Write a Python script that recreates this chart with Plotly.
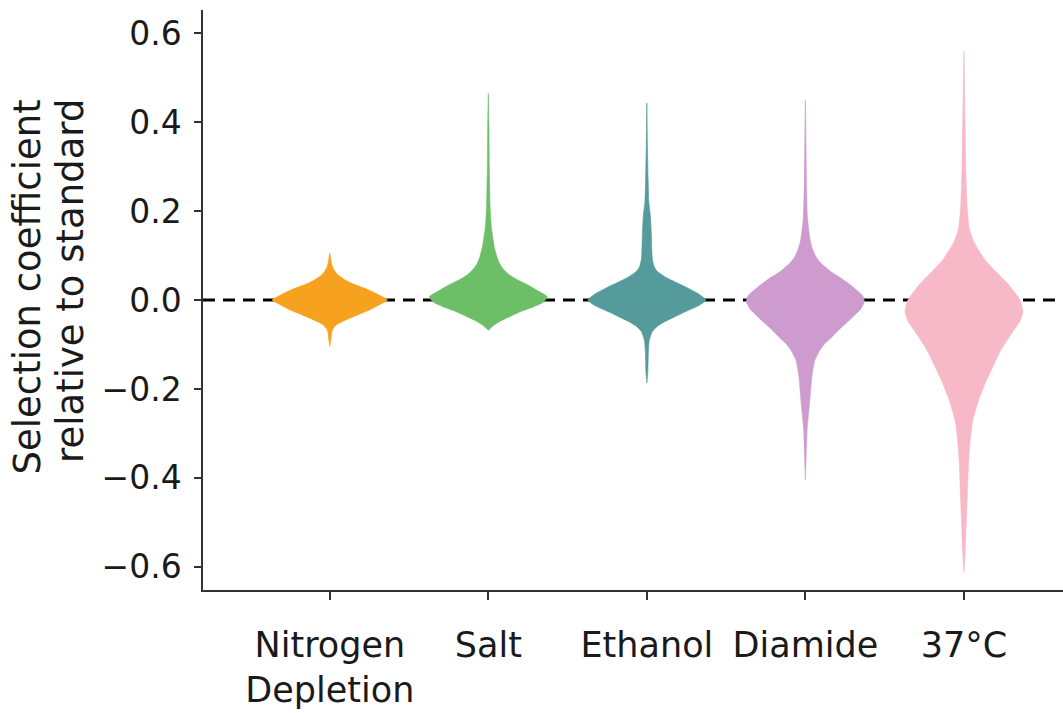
import plotly.graph_objects as go

# Conditions shown along the x axis
conditions = ["Nitrogen<br>Depletion", "Salt", "Ethanol", "Diamide", "37°C"]
colors = ["#f6a21f", "#6cbf66", "#559b9b", "#cd9bcd", "#f7b8c8"]

# Kernel-density profiles of the selection coefficient per condition:
# sample levels (y) and density at each level, in percent of the peak
nitrogen_y = [0.105, 0.095, 0.086, 0.075, 0.065, 0.056, 0.045, 0.037, 0.028, 0.019, 0.008,
              0.0, -0.008, -0.022, -0.032, -0.041, -0.05, -0.056, -0.065, -0.075, -0.09, -0.105]
nitrogen_d = [0, 1.4, 2.5, 4.6, 8.5, 14, 26, 38, 56, 72, 88,
              98, 88, 68, 50, 34, 19, 11, 5, 3, 1.7, 0]

salt_y = [0.465, 0.40, 0.30, 0.21, 0.165, 0.12, 0.095, 0.082, 0.07, 0.056, 0.045,
          0.034, 0.02, 0.007, -0.005, -0.015, -0.025, -0.037, -0.047, -0.056, -0.063, -0.068]
salt_d = [0, 1, 1.7, 3, 5, 10, 15, 19, 25, 36, 50,
          67, 85, 100, 93, 77, 57, 37, 21, 10, 4, 0]

ethanol_y = [0.443, 0.35, 0.28, 0.22, 0.19, 0.15, 0.11, 0.09, 0.075, 0.067, 0.058, 0.049, 0.04,
             0.03, 0.015, 0.0, -0.012, -0.026, -0.038, -0.049, -0.06, -0.071, -0.09, -0.12,
             -0.16, -0.187]
ethanol_d = [0, 1, 2, 3.4, 6, 7.6, 8.5, 9.5, 12.5, 16, 24, 35, 49,
             65, 86, 100, 89, 66, 47, 30, 17, 9.3, 4.2, 2.5,
             1.7, 0]

diamide_y = [0.45, 0.35, 0.25, 0.187, 0.16, 0.135, 0.115, 0.097, 0.085, 0.075, 0.063, 0.052,
             0.037, 0.022, 0.01, -0.004, -0.02, -0.032, -0.045, -0.063, -0.083, -0.098,
             -0.112, -0.135, -0.172, -0.225, -0.26, -0.29, -0.35, -0.405]
diamide_d = [0, 1, 2, 3.4, 5.5, 8, 12, 18, 25, 33, 44, 57,
             73, 87, 97, 100, 94, 85, 75, 60, 45, 33,
             25, 16, 11, 7.6, 5, 3, 1.4, 0]

heat_y = [0.56, 0.48, 0.40, 0.285, 0.21, 0.165, 0.15, 0.13, 0.112, 0.09, 0.075, 0.06, 0.037,
          0.022, 0.0, -0.025, -0.045, -0.075, -0.112, -0.15, -0.187, -0.225, -0.277, -0.352,
          -0.465, -0.578, -0.613]
heat_d = [0, 1, 2, 3.4, 5.5, 8.5, 11.5, 17, 25, 36, 46, 57, 74,
          83, 95, 100, 96, 81, 63, 49, 36, 25, 14, 8.5,
          5, 1.7, 0]

profiles = [(nitrogen_y, nitrogen_d), (salt_y, salt_d), (ethanol_y, ethanol_d),
            (diamide_y, diamide_d), (heat_y, heat_d)]

HALF_WIDTH = 0.372  # half-width of a violin at peak density, in category units

fig = go.Figure()

for i, ((ys, ds), col) in enumerate(zip(profiles, colors)):
    right = [i + d / 100 * HALF_WIDTH for d in ds]
    left = [i - d / 100 * HALF_WIDTH for d in reversed(ds)]
    fig.add_trace(go.Scatter(
        x=right + left,
        y=list(ys) + list(reversed(ys)),
        mode="lines",
        fill="toself",
        fillcolor=col,
        line=dict(color=col, width=0.6, shape="spline", smoothing=0.5),
        hoverinfo="skip",
        showlegend=False,
    ))

# Dashed reference line at zero, beneath the violins
fig.add_shape(type="line", xref="paper", x0=0, x1=1, yref="y", y0=0, y1=0,
              line=dict(color="black", width=3, dash="12px,8px"), layer="below")

font_family = "DejaVu Sans"
axis_col = "#333333"
text_col = "#1a1a1a"

fig.update_xaxes(
    range=[-0.8, 4.625],
    tickmode="array",
    tickvals=list(range(len(conditions))),
    ticktext=conditions,
    showline=True, linecolor=axis_col, linewidth=1.5,
    ticks="outside", ticklen=8, tickwidth=1.5, tickcolor=axis_col,
    showgrid=False, zeroline=False,
    tickfont=dict(family=font_family, size=35, color=text_col),
    ticklabelstandoff=15,
)
fig.update_yaxes(
    range=[-0.652, 0.652],
    tickmode="array",
    tickvals=[-0.6, -0.4, -0.2, 0.0, 0.2, 0.4, 0.6],
    ticktext=["\u22120.6", "\u22120.4", "\u22120.2", "0.0", "0.2", "0.4", "0.6"],
    showline=True, linecolor=axis_col, linewidth=1.5,
    ticks="outside", ticklen=7, tickwidth=1.5, tickcolor=axis_col,
    showgrid=False, zeroline=False,
    tickfont=dict(family=font_family, size=33, color=text_col),
    ticklabelstandoff=6,
)

# Two-line y-axis title
for text, xpos in [("Selection coefficient", -0.2035), ("relative to standard", -0.1547)]:
    fig.add_annotation(
        text=text, xref="paper", yref="paper", x=xpos, y=0.85,
        xanchor="center", yanchor="top", textangle=-90, showarrow=False,
        font=dict(family=font_family, size=37, color=text_col),
    )

fig.update_layout(
    width=1063, height=713,
    margin=dict(l=203, r=0, t=10, b=123),
    paper_bgcolor="white", plot_bgcolor="white",
)

fig.write_html("out.html")
